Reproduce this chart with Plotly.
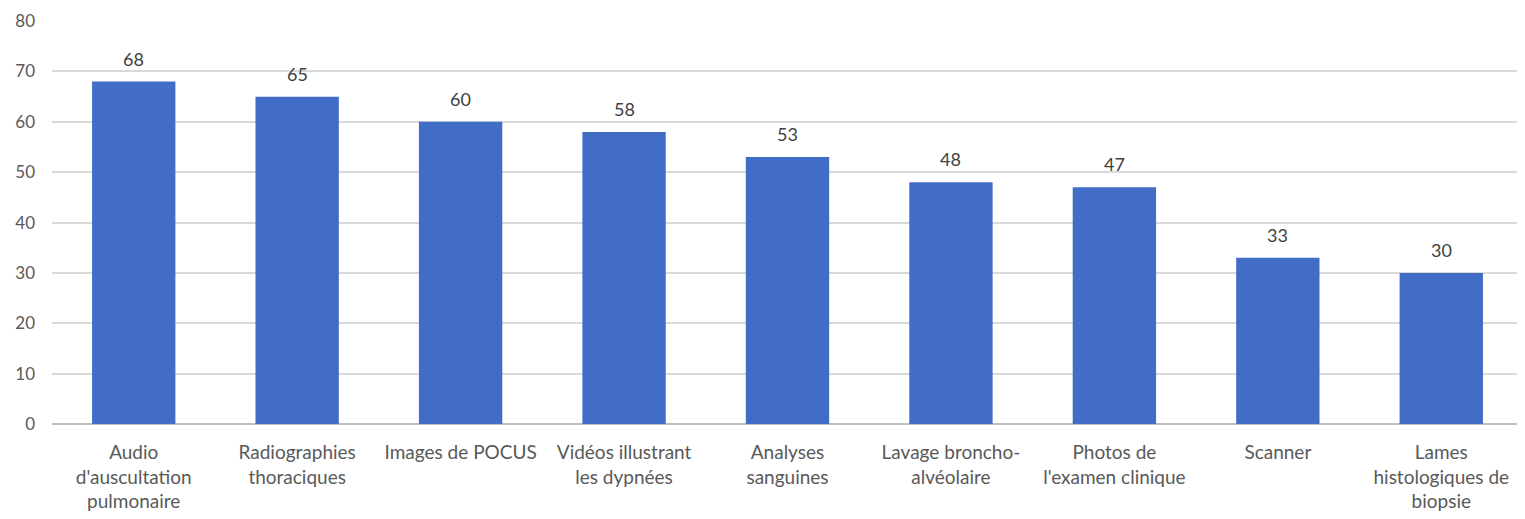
import plotly.graph_objects as go

categories = [
    "Audio<br>d'auscultation<br>pulmonaire",
    "Radiographies<br>thoraciques",
    "Images de POCUS",
    "Vidéos illustrant<br>les dypnées",
    "Analyses<br>sanguines",
    "Lavage broncho-<br>alvéolaire",
    "Photos de<br>l'examen clinique",
    "Scanner",
    "Lames<br>histologiques de<br>biopsie",
]
values = [68, 65, 60, 58, 53, 48, 47, 33, 30]
y_ticks = [0, 10, 20, 30, 40, 50, 60, 70, 80]

fig = go.Figure(
    go.Bar(
        x=categories,
        y=values,
        marker=dict(color="#416dc6", line=dict(width=0)),
        width=0.51,
        hoverinfo="x+y",
    )
)

for c, v in zip(categories, values):
    fig.add_annotation(
        x=c, y=v, text=str(v), showarrow=False,
        yanchor="bottom", yshift=10,
        font=dict(size=18, color="#404040"),
    )

fig.update_layout(
    width=1525,
    height=519,
    margin=dict(l=44, r=10, t=13, b=103),
    paper_bgcolor="white",
    plot_bgcolor="white",
    font=dict(family="Lato, Open Sans, sans-serif", size=18, color="#595959"),
    showlegend=False,
)
fig.update_yaxes(
    range=[0, 80.02],
    tickvals=y_ticks,
    showgrid=True,
    gridcolor="#d9d9d9",
    gridwidth=1.5,
    zeroline=True,
    zerolinecolor="#bfbfbf",
    zerolinewidth=1.5,
    ticks="",
    tickfont=dict(size=17, color="#595959"),
    ticklabelstandoff=16,
    ticklabeloverflow="allow",
    automargin=False,
)
fig.update_xaxes(
    showgrid=False,
    ticks="",
    tickfont=dict(size=19, color="#595959"),
    tickangle=0,
    ticklabelstandoff=15,
    automargin=False,
)

fig.write_html("out.html")
